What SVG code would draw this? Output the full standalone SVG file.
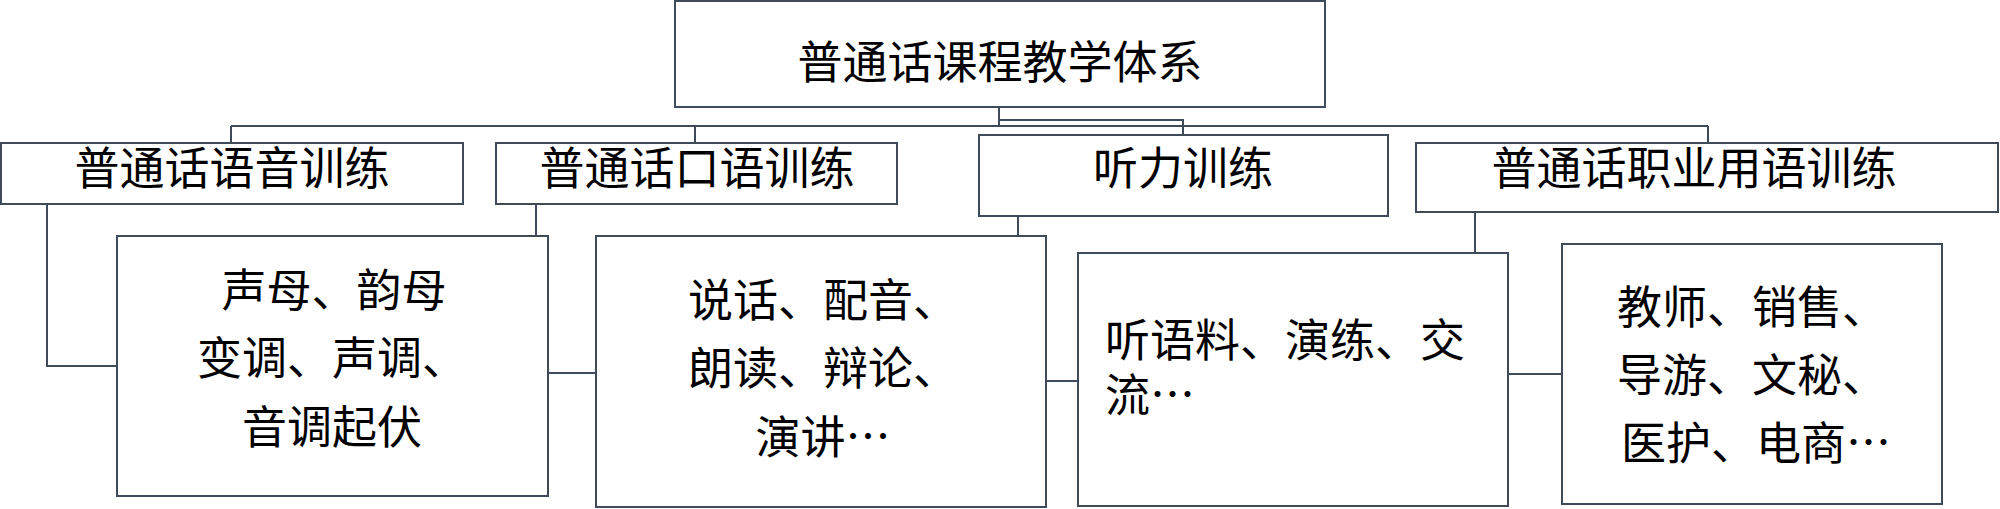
<svg xmlns="http://www.w3.org/2000/svg" width="2000" height="509" viewBox="0 0 2000 509">
<style>
.box{fill:#ffffff;stroke:#3f4a5a;stroke-width:2}
.con{fill:none;stroke:#3f4a5a;stroke-width:2}
text{font-family:"Noto Sans CJK SC","Noto Sans CJK JP",sans-serif;font-size:45px;fill:#000000}
.c{text-anchor:middle}
</style>
<rect width="2000" height="509" fill="#ffffff"/>
<g id="connectors">
<path class="con" d="M999,107 V126 M231,126 H1708 M231,126 V143 M695,126 V143 M1708,126 V143"/>
<path class="con" d="M999,107 V120 H1183 V135"/>
<path class="con" d="M47,204 V366 H117"/>
<path class="con" d="M536,204 V236"/>
<path class="con" d="M1018,216 V236"/>
<path class="con" d="M1475,212 V253"/>
<path class="con" d="M548,373 H596"/>
<path class="con" d="M1046,381 H1078"/>
<path class="con" d="M1508,374 H1562"/>
</g>
<g id="root">
<rect class="box" x="675" y="1" width="650" height="106"/>
<text class="c" x="1000" y="79">普通话课程教学体系</text>
</g>
<g id="n1">
<rect class="box" x="1" y="143" width="462" height="61"/>
<text class="c" x="232" y="185">普通话语音训练</text>
</g>
<g id="n2">
<rect class="box" x="496" y="143" width="401" height="61"/>
<text class="c" x="697" y="185">普通话口语训练</text>
</g>
<g id="n3">
<rect class="box" x="979" y="135" width="409" height="81"/>
<text class="c" x="1183" y="185">听力训练</text>
</g>
<g id="n4">
<rect class="box" x="1416" y="143" width="582" height="69"/>
<text class="c" x="1694" y="185">普通话职业用语训练</text>
</g>
<g id="leaf1">
<rect class="box" x="117" y="236" width="431" height="260"/>
<text class="c" x="334" y="307">声母、韵母</text>
<text class="c" x="332" y="375">变调、声调、</text>
<text class="c" x="332" y="444">音调起伏</text>
</g>
<g id="leaf2">
<rect class="box" x="596" y="236" width="450" height="271"/>
<text class="c" x="823" y="317">说话、配音、</text>
<text class="c" x="823" y="385">朗读、辩论、</text>
<text class="c" x="823" y="454">演讲…</text>
</g>
<g id="leaf3">
<rect class="box" x="1078" y="253" width="430" height="253"/>
<text x="1105" y="357">听语料、演练、交</text>
<text x="1105" y="412">流…</text>
</g>
<g id="leaf4">
<rect class="box" x="1562" y="244" width="380" height="260"/>
<text class="c" x="1752" y="324">教师、销售、</text>
<text class="c" x="1752" y="392">导游、文秘、</text>
<text class="c" x="1756" y="460">医护、电商…</text>
</g>
</svg>
